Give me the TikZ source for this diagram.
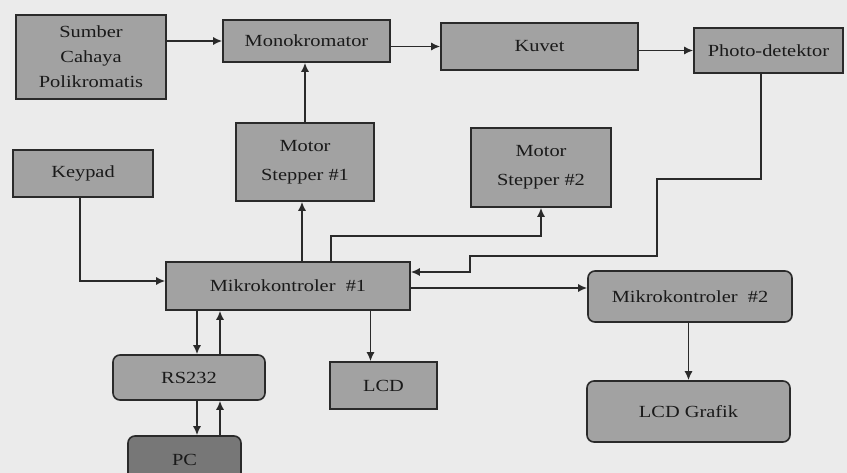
\documentclass[tikz,border=0pt]{standalone}
\usepackage{fontspec}
\setmainfont{Liberation Serif}[FakeStretch=1.2]
\usetikzlibrary{arrows.meta,calc}
\definecolor{bg}{HTML}{EBEBEB}
\definecolor{boxfill}{HTML}{A2A2A2}
\definecolor{pcfill}{HTML}{777777}
\definecolor{ink}{HTML}{2A2A2A}
\definecolor{txt}{HTML}{1A1A1A}
\tikzset{
  blk/.style={draw=ink, line width=1.6pt, fill=boxfill, inner sep=0pt, text=txt,
    font=\fontsize{17}{25}\selectfont, align=center},
  rblk/.style={blk, rounded corners=7pt},
  conn/.style={draw=ink, line width=1.5pt, -{Latex[length=9pt,width=8pt]}},
}
\begin{document}
\begin{tikzpicture}[x=1pt,y=-1pt]
\fill[bg] (0,0) rectangle (847,473);
\useasboundingbox (0,0) rectangle (847,473);
\clip (0,0) rectangle (847,473);
% nodes
\node[blk, minimum width=150pt, minimum height=84pt] (src) at (91,57) {Sumber\\Cahaya\\Polikromatis};
\node[blk, minimum width=167pt, minimum height=42pt] (mono) at (306.5,41) {Monokromator};
\node[blk, minimum width=197pt, minimum height=47pt] (kuvet) at (539.5,46.5) {Kuvet};
\node[blk, minimum width=149pt, minimum height=45pt] (photo) at (768.5,50.5) {Photo-detektor};
\node[blk, minimum width=140pt, minimum height=47pt] (keypad) at (83,173.5) {Keypad};
\node[blk, minimum width=138pt, minimum height=78pt, font=\fontsize{17}{29}\selectfont] (ms1) at (305,162) {Motor\\Stepper \#1};
\node[blk, minimum width=140pt, minimum height=79pt, font=\fontsize{17}{29}\selectfont] (ms2) at (541,167.5) {Motor\\Stepper \#2};
\node[blk, minimum width=244pt, minimum height=48pt] (mk1) at (288,286) {Mikrokontroler~~\#1};
\node[rblk, minimum width=204pt, minimum height=51pt] (mk2) at (690,296.5) {Mikrokontroler~~\#2};
\node[rblk, minimum width=152pt, minimum height=45pt] (rs) at (189,377.5) {RS232};
\node[blk, minimum width=107pt, minimum height=47pt] (lcd) at (383.5,385.5) {LCD};
\node[rblk, minimum width=203pt, minimum height=61pt] (lcdg) at (688.5,411.5) {LCD Grafik};
\node[rblk, fill=pcfill, minimum width=113pt, minimum height=48pt] (pc) at (184.5,460) {PC};
% connectors
\draw[conn] (src.east |- mono) -- (mono.west);
\draw[conn] (mono.east |- kuvet) -- (kuvet.west);
\draw[conn] (kuvet.east |- photo) -- (photo.west);
\draw[conn] (ms1.north) -- (ms1.north |- mono.south);
\draw[conn] ([xshift=-3pt]ms1.south |- mk1.north) -- ([xshift=-3pt]ms1.south);
\draw[conn] ([xshift=-3pt]keypad.south) |- ([yshift=5pt]mk1.west);
\draw[conn] ($(mk1.north west)+(166,0)$) -- ++(0,-25) -| (ms2.south);
\draw[conn] ([xshift=-7.5pt]photo.south) -- ++(0,105) -- ++(-104,0) -- ++(0,77) -- ++(-187,0) |- ([yshift=14pt]mk1.east);
\draw[conn] ([yshift=-2pt]mk1.east) -- ([yshift=-2pt]mk1.east -| mk2.west);
\draw[conn] (lcdg.north |- mk2.south) -- (lcdg.north);
\draw[conn] ([xshift=-13pt]lcd.north |- mk1.south) -- ([xshift=-13pt]lcd.north);
\draw[conn] ([xshift=8pt]rs.north |- mk1.south) -- ([xshift=8pt]rs.north);
\draw[conn] ([xshift=31pt]rs.north) -- ([xshift=31pt]rs.north |- mk1.south);
\draw[conn] ([xshift=12.5pt]pc.north |- rs.south) -- ([xshift=12.5pt]pc.north);
\draw[conn] ([xshift=35.5pt]pc.north) -- ([xshift=35.5pt]pc.north |- rs.south);
\end{tikzpicture}
\end{document}
